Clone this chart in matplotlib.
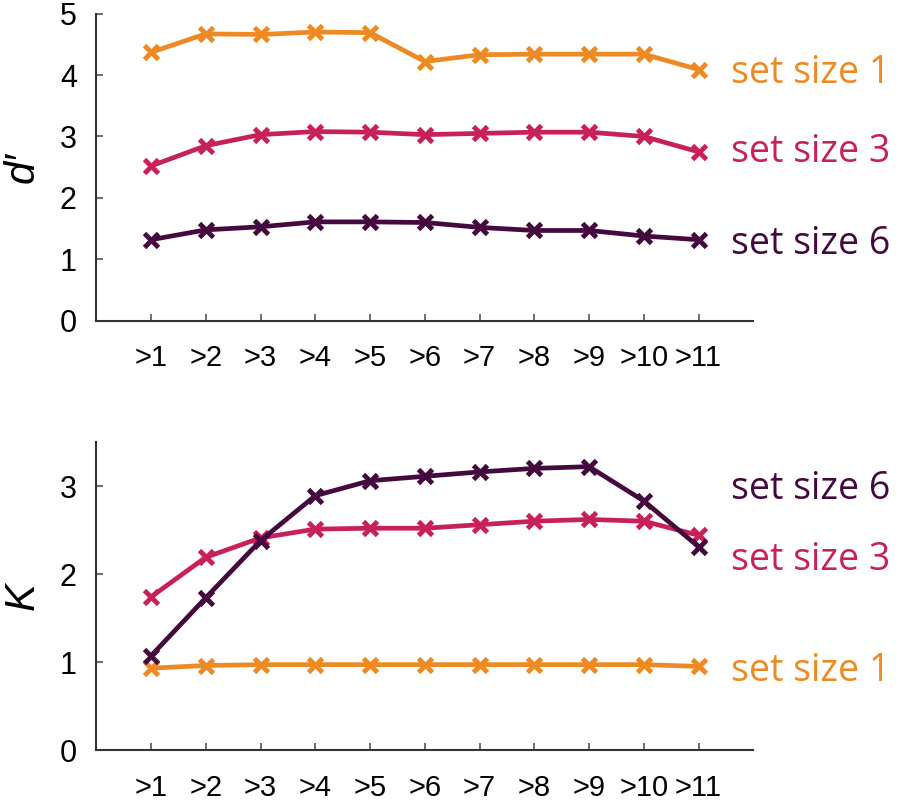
import numpy as np
import matplotlib
matplotlib.use("Agg")
import matplotlib.pyplot as plt

# categories
cats = [">1", ">2", ">3", ">4", ">5", ">6", ">7", ">8", ">9", ">10", ">11"]

# d' values
d_ss1 = [4.37, 4.67, 4.66, 4.70, 4.69, 4.22, 4.33, 4.34, 4.34, 4.34, 4.09]
d_ss3 = [2.52, 2.85, 3.03, 3.08, 3.07, 3.03, 3.05, 3.07, 3.07, 3.00, 2.75]
d_ss6 = [1.32, 1.48, 1.53, 1.61, 1.61, 1.60, 1.52, 1.47, 1.47, 1.38, 1.32]

# K values
k_ss1 = [0.93, 0.96, 0.97, 0.97, 0.97, 0.97, 0.97, 0.97, 0.97, 0.97, 0.95]
k_ss3 = [1.74, 2.19, 2.41, 2.51, 2.52, 2.52, 2.56, 2.60, 2.62, 2.60, 2.44]
k_ss6 = [1.07, 1.73, 2.38, 2.89, 3.06, 3.11, 3.16, 3.20, 3.22, 2.83, 2.31]

c1 = "#EE8A23"
c3 = "#C8205A"
c6 = "#44093F"

x = np.arange(1, len(cats) + 1)

fig = plt.figure(figsize=(9, 8), dpi=100)
ax1 = fig.add_axes([0.107, 0.599, 0.730, 0.384])
ax2 = fig.add_axes([0.107, 0.0625, 0.730, 0.385])

lab_font = ["Open Sans", "DejaVu Sans"]


def style(ax, ymax, yticks, ylabel):
    ax.set_xlim(0, 12)
    ax.set_ylim(0, ymax)
    ax.set_xticks(x)
    ax.set_xticklabels(cats, family="Liberation Sans", fontsize=21)
    ax.set_yticks(yticks)
    ax.set_yticklabels([str(t) for t in yticks], family="Liberation Sans", fontsize=22)
    ax.tick_params(axis="x", direction="in", length=5, width=1.2, pad=17, color="#555555")
    ax.tick_params(axis="y", direction="in", length=5, width=1.2, pad=14, color="#555555")
    for s in ["top", "right"]:
        ax.spines[s].set_visible(False)
    for s in ["left", "bottom"]:
        ax.spines[s].set_linewidth(1.5)
        ax.spines[s].set_color("#333333")
    ax.set_ylabel(ylabel, fontsize=30, fontstyle="italic", family="Liberation Sans", labelpad=12)


kw = dict(marker="x", markersize=10, markeredgewidth=3.5, linewidth=3.4)

ax1.plot(x, d_ss1, color=c1, **kw)
ax1.plot(x, d_ss3, color=c3, **kw)
ax1.plot(x, d_ss6, color=c6, **kw)
style(ax1, 5, [0, 1, 2, 3, 4, 5], "d\u2032")

ax2.plot(x, k_ss1, color=c1, **kw)
ax2.plot(x, k_ss3, color=c3, **kw)
ax2.plot(x, k_ss6, color=c6, **kw)
style(ax2, 3.5, [0, 1, 2, 3], "K")

# series labels
for ax, ys, cols, labs in [
    (ax1, [4.04, 2.74, 1.25], [c1, c3, c6], ["set size 1", "set size 3", "set size 6"]),
    (ax2, [2.97, 2.16, 0.90], [c6, c3, c1], ["set size 6", "set size 3", "set size 1"]),
]:
    for yy, cc, ll in zip(ys, cols, labs):
        ax.text(11.6, yy, ll, color=cc, fontsize=27, family=lab_font,
                va="center", ha="left", clip_on=False)

fig.savefig("out.png", dpi=100)
